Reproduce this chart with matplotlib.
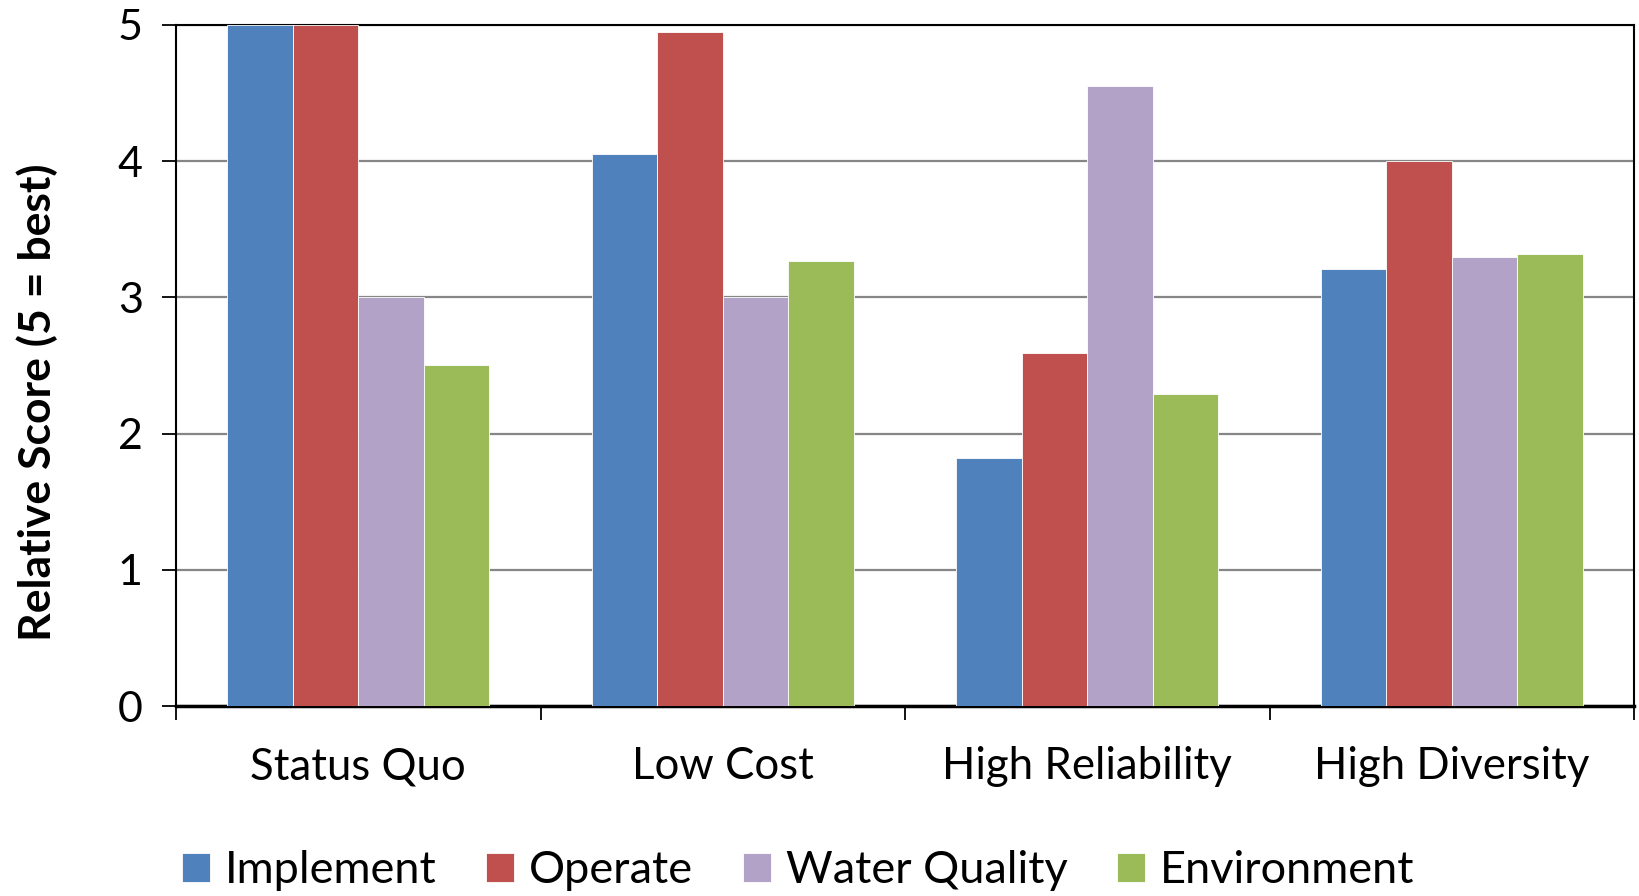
import numpy as np
import matplotlib
matplotlib.use("Agg")
import matplotlib.pyplot as plt

plt.rcParams['font.family'] = ['Lato', 'DejaVu Sans']

categories = ["Status Quo", "Low Cost", "High Reliability", "High Diversity"]
series = ["Implement", "Operate", "Water Quality", "Environment"]
implement = [5.0, 4.05, 1.82, 3.21]
operate = [5.0, 4.95, 2.59, 4.0]
water_quality = [3.0, 3.0, 4.55, 3.30]
environment = [2.5, 3.27, 2.29, 3.32]
colors = ["#4F81BD", "#C0504D", "#B3A2C7", "#9BBB59"]

fig = plt.figure(figsize=(16.39, 8.96), dpi=100)
ax = fig.add_axes([176/1639, 1 - 706/896, (1634 - 176)/1639, (706 - 25)/896])

x = np.arange(len(categories))
w = 0.18
for i, (name, vals) in enumerate(zip(series, [implement, operate, water_quality, environment])):
    ax.bar(x + (i - 1.5) * w, vals, width=w, color=colors[i], label=name,
           edgecolor="white", linewidth=0.6, zorder=3)

ax.set_xlim(-0.5, len(categories) - 0.5)
ax.set_ylim(0, 5)
ax.set_yticks(range(6))
ax.yaxis.grid(True, color="#868686", linewidth=1.6, zorder=0)

# boundary ticks between categories, labels at centres
ax.set_xticks(np.arange(-0.5, len(categories), 1.0))
ax.set_xticklabels([])
ax.set_xticks(x, minor=True)
ax.set_xticklabels(categories, minor=True)
ax.tick_params(axis="x", which="major", length=10, width=1.3, direction="out")
ax.tick_params(axis="x", which="minor", length=0, pad=29, labelsize=31.5)
ax.tick_params(axis="y", length=10, width=1.3, direction="out", pad=14, labelsize=31)

for s in ax.spines.values():
    s.set_color("black")
    s.set_linewidth(1.5)
ax.spines["bottom"].set_linewidth(2.5)

# y label sits a bit below the axes centre in the original
fig.text(0.0225, 1 - 402/896, "Relative Score (5 = best)", rotation=90,
         ha="center", va="center", fontsize=32, fontweight="bold")

fig.legend(loc="center", bbox_to_anchor=(0.487, 0.028), ncol=4, frameon=False,
           fontsize=32.5, handlelength=0.62, handleheight=0.62, handletextpad=0.33,
           columnspacing=1.1)

fig.savefig("out.png", dpi=100)
